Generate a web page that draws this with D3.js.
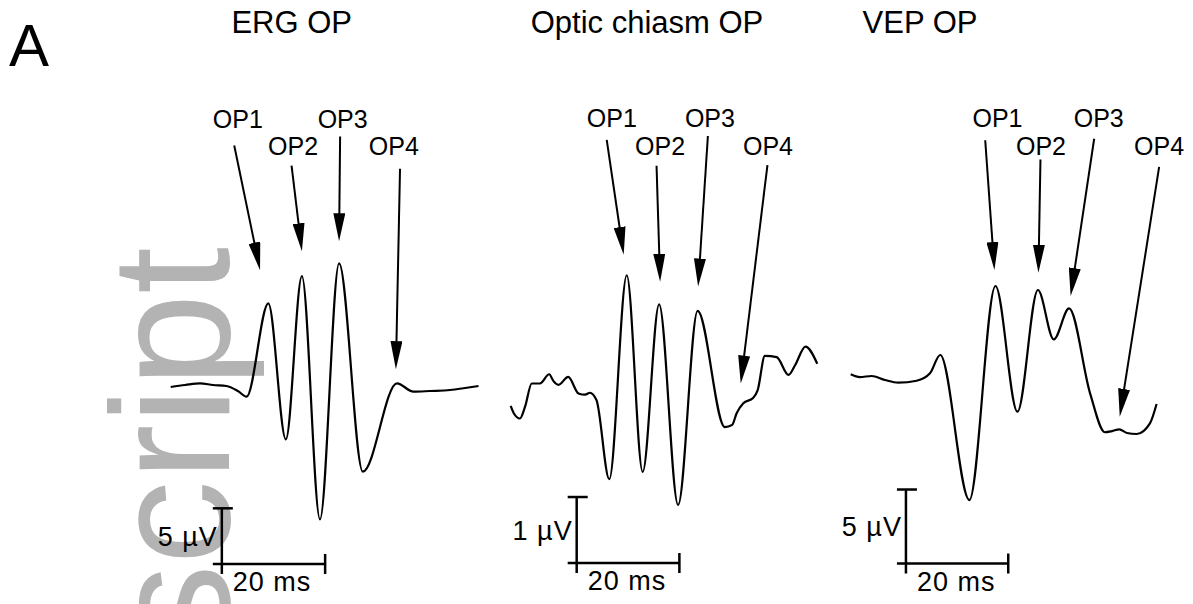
<!DOCTYPE html>
<html>
<head>
<meta charset="utf-8">
<script src="https://cdn.jsdelivr.net/npm/d3@7"></script>
<style>
  body { margin: 0; background: #fff; }
  svg { display: block; font-family: "Liberation Sans", Arial, sans-serif; }
</style>
</head>
<body>
<script>

// traces: [time (ms), amplitude (µV)]
var ergTrace = [
    [0, 0.0], [2.8, 0.18], [5.7, 0.33], [8.2, 0.18], [10.8, 0.09], [13.0, -0.36], [14.7, -0.87],
    [18.9, 7.52], [22.3, -4.70], [25.4, 9.97], [28.9, -11.89], [32.6, 11.11], [37.2, -7.61],
    [43.8, 0.33], [47.0, -0.42], [50.2, -0.36], [54.1, -0.27], [57.0, -0.09], [59.6, 0.09]
];
var chiasmTrace = [
    [0, -0.09], [0.6, -0.20], [1.8, -0.28], [2.8, -0.10], [4.1, 0.25], [5.7, 0.25], [7.5, 0.39],
    [8.3, 0.29], [9.3, 0.23], [11.2, 0.35], [13.2, 0.10], [14.5, 0.08], [15.4, 0.11], [16.7, 0.0],
    [19.2, -1.20], [22.6, 1.89], [25.7, -1.09], [28.9, 1.45], [32.6, -1.59], [36.4, 1.35],
    [41.7, -0.41], [43.1, -0.38], [44.0, -0.20], [45.3, -0.05], [47.2, 0.03], [48.1, 0.15],
    [49.5, 0.67], [51.8, 0.65], [54.1, 0.38], [55.4, 0.53], [57.4, 0.81], [59.7, 0.55]
];
var vepTrace = [
    [0, 0.39], [1.8, 0.20], [4.1, 0.27], [6.7, 0.0], [9.3, -0.18], [12.9, -0.05], [15.5, 0.45],
    [17.5, 1.69], [23.2, -8.11], [28.3, 6.35], [32.6, -2.14], [36.6, 6.08], [39.7, 2.75],
    [42.7, 4.84], [46.8, -0.90], [49.7, -3.53], [51.1, -3.45], [52.5, -3.33], [54.0, -3.58],
    [55.9, -3.65], [58.5, -2.93], [59.8, -1.62]
];

var titles = ["ERG OP", "Optic chiasm OP", "VEP OP"];
var opNames = ["OP1", "OP2", "OP3", "OP4"];

// arrow tail / tip and label anchor for each OP, in ms / µV
var ergArrows = [
    { tail: [12.3, 21.7], tip: [17.3, 10.5], label: [13.0, 23.3] },
    { tail: [23.4, 19.9], tip: [25.4, 12.2], label: [23.7, 20.8] },
    { tail: [32.8, 22.5], tip: [32.6, 13.1], label: [33.3, 23.3] },
    { tail: [44.4, 19.6], tip: [43.6, 1.6],  label: [43.2, 20.8] }
];
var chiasmArrows = [
    { tail: [18.7, 3.94], tip: [22.0, 2.20], label: [19.7, 4.14] },
    { tail: [28.4, 3.55], tip: [29.1, 1.79], label: [29.1, 3.71] },
    { tail: [38.4, 4.00], tip: [36.5, 1.72], label: [38.8, 4.14] },
    { tail: [50.0, 3.56], tip: [44.8, 0.25], label: [50.1, 3.71] }
];
var vepArrows = [
    { tail: [26.3, 16.2], tip: [28.1, 7.43], label: [28.7, 17.1] },
    { tail: [37.1, 14.9], tip: [36.7, 7.25], label: [37.2, 15.2] },
    { tail: [47.6, 16.3], tip: [43.0, 5.68], label: [48.5, 17.1] },
    { tail: [60.3, 14.4], tip: [52.6, -2.48], label: [60.3, 15.2] }
];

// scale bars: corner (ms, µV), size in ms and µV
var barMs = [20, 20, 20];
var barUv = [5, 1, 5];
var barCorner = [[9.9, -15.9], [12.85, -2.47], [10.8, -12.4]];

var width = 1193, height = 604;

var svg = d3.select("body").append("svg")
    .attr("width", width)
    .attr("height", height);

// watermark behind everything
svg.append("text")
    .attr("transform", "translate(229,247) rotate(-90)")
    .attr("text-anchor", "end")
    .attr("font-size", 168)
    .attr("fill", "#b3b3b3")
    .text("Manuscript");

svg.append("text")
    .attr("x", 9).attr("y", 66)
    .attr("font-size", 60)
    .text("A");

var defs = svg.append("defs");
defs.append("marker")
    .attr("id", "head")
    .attr("viewBox", "0 0 28 12")
    .attr("refX", 28).attr("refY", 6)
    .attr("markerWidth", 28).attr("markerHeight", 12)
    .attr("markerUnits", "userSpaceOnUse")
    .attr("orient", "auto")
    .append("path")
    .attr("d", "M0,0L28,6L0,12Z")
    .attr("fill", "#000");

var panels = [
    { trace: ergTrace, arrows: ergArrows, x0: 170.7, y0: 387, kx: 5.165, ky: 11.13, titleX: 291.7 },
    { trace: chiasmTrace, arrows: chiasmArrows, x0: 510.7, y0: 400, kx: 5.135, ky: 66, titleX: 647 },
    { trace: vepTrace, arrows: vepArrows, x0: 850.7, y0: 380, kx: 5.115, ky: 14.8, titleX: 920 }
];

panels.forEach(function (p, i) {
    var x = d3.scaleLinear().domain([0, 60]).range([p.x0, p.x0 + 60 * p.kx]);
    var y = d3.scaleLinear().domain([0, 1]).range([p.y0, p.y0 - p.ky]);

    var g = svg.append("g");

    g.append("text")
        .attr("x", p.titleX).attr("y", 33)
        .attr("text-anchor", "middle")
        .attr("font-size", 31)
        .text(titles[i]);

    var line = d3.line()
        .x(function (d) { return x(d[0]); })
        .y(function (d) { return y(d[1]); })
        .curve(d3.curveMonotoneX);

    g.append("path")
        .datum(p.trace)
        .attr("d", line)
        .attr("fill", "none")
        .attr("stroke", "#000")
        .attr("stroke-width", 2.2)
        .attr("stroke-linejoin", "round");

    // OP arrows + labels
    p.arrows.forEach(function (a, j) {
        var x1 = x(a.tail[0]), y1 = y(a.tail[1]);
        var x2 = x(a.tip[0]), y2 = y(a.tip[1]);
        var len = Math.hypot(x2 - x1, y2 - y1);
        // stop the shaft under the arrowhead
        var sx = x2 - (x2 - x1) / len * 20, sy = y2 - (y2 - y1) / len * 20;
        g.append("line")
            .attr("x1", x1).attr("y1", y1)
            .attr("x2", sx).attr("y2", sy)
            .attr("stroke", "#000")
            .attr("stroke-width", 2);
        g.append("line")
            .attr("x1", sx).attr("y1", sy)
            .attr("x2", x2).attr("y2", y2)
            .attr("stroke", "none")
            .attr("marker-end", "url(#head)");
        g.append("text")
            .attr("x", x(a.label[0])).attr("y", y(a.label[1]))
            .attr("text-anchor", "middle")
            .attr("font-size", 25)
            .text(opNames[j]);
    });

    // scale bar
    var cx = x(barCorner[i][0]), cy = y(barCorner[i][1]);
    var ex = x(barCorner[i][0] + barMs[i]);
    var ty = y(barCorner[i][1] + barUv[i]);
    var bar = g.append("g")
        .attr("stroke", "#000")
        .attr("stroke-width", 2.5);
    bar.append("line").attr("x1", cx).attr("x2", cx).attr("y1", ty).attr("y2", cy + 10);
    bar.append("line").attr("x1", cx - 9).attr("x2", cx + 11).attr("y1", ty).attr("y2", ty);
    bar.append("line").attr("x1", cx - 9).attr("x2", ex).attr("y1", cy).attr("y2", cy);
    bar.append("line").attr("x1", ex).attr("x2", ex).attr("y1", cy - 10).attr("y2", cy + 10);

    g.append("text")
        .attr("x", cx - 4).attr("y", (ty + cy) / 2 + 9.5)
        .attr("text-anchor", "end")
        .attr("font-size", 27)
        .attr("letter-spacing", 1)
        .text(barUv[i] + " \u00b5V");

    g.append("text")
        .attr("x", cx + 11).attr("y", cy + 27)
        .attr("font-size", 27)
        .attr("letter-spacing", 1)
        .text(barMs[i] + " ms");
});

</script>
</body>
</html>
